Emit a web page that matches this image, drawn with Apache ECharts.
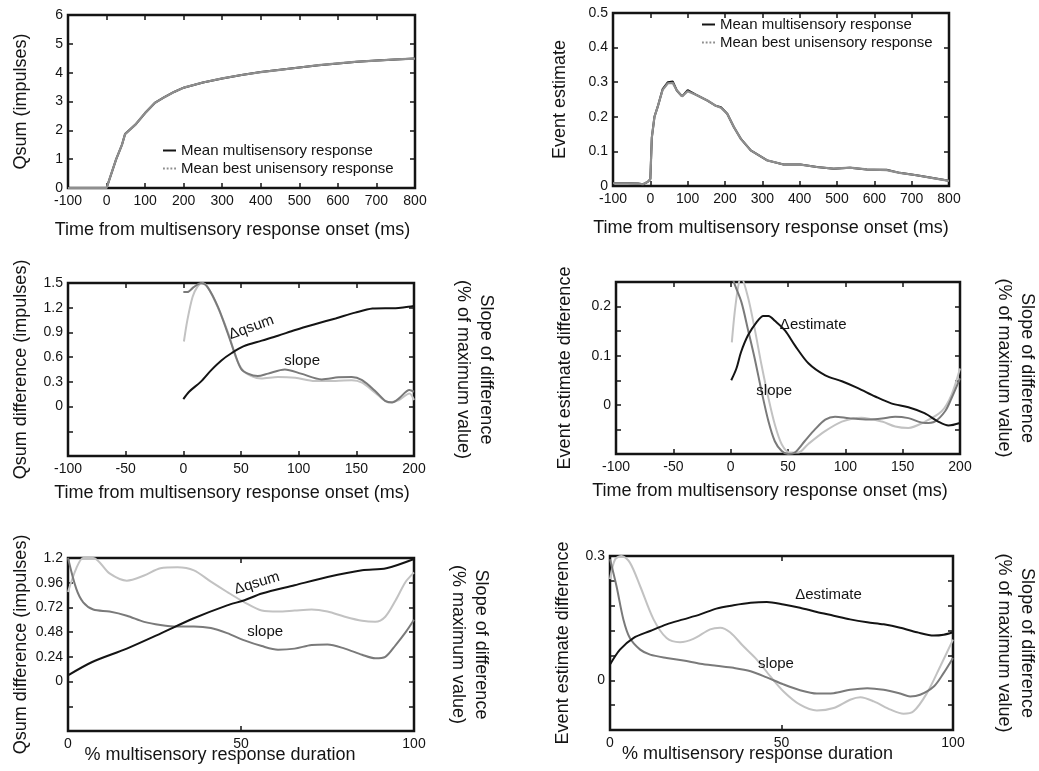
<!DOCTYPE html>
<html>
<head>
<meta charset="utf-8">
<title>Multisensory response panels</title>
<script src="https://cdn.jsdelivr.net/npm/echarts@6/dist/echarts.min.js"></script>
<style>
  html, body { margin: 0; padding: 0; background: #fff; }
  #chart { width: 1039px; height: 771px; }
</style>
</head>
<body>
<div id="chart"></div>
<script>
// ---- data ----
// panel A: Qsum over time
const qsumTime = [-100, -50, 0, 10, 25, 40, 48, 75, 100, 125, 150, 175, 200, 250, 300, 350, 400, 450, 500, 550, 600, 650, 700, 750, 800]
const qsumMulti = [0, 0, 0, 0.4, 1.0, 1.5, 1.87, 2.2, 2.6, 2.95, 3.15, 3.33, 3.48, 3.66, 3.8, 3.92, 4.02, 4.1, 4.18, 4.26, 4.32, 4.38, 4.42, 4.46, 4.49]
const qsumUni = [0, 0, 0, 0.4, 1.0, 1.5, 1.87, 2.2, 2.6, 2.95, 3.15, 3.33, 3.48, 3.66, 3.8, 3.92, 4.02, 4.1, 4.18, 4.26, 4.32, 4.38, 4.42, 4.46, 4.49]

// panel B: event estimate over time
const estTime = [-100, -60, -33, -20, -7, 0, 4, 11, 20, 33, 47, 60, 71, 85, 100, 122, 153, 175, 189, 206, 224, 242, 269, 313, 357, 402, 446, 491, 535, 580, 633, 668, 713, 757, 800]
const estMulti = [0.008, 0.008, 0.007, 0.005, 0.012, 0.02, 0.14, 0.2, 0.23, 0.28, 0.3, 0.302, 0.276, 0.259, 0.277, 0.264, 0.247, 0.232, 0.228, 0.209, 0.17, 0.137, 0.103, 0.074, 0.062, 0.062, 0.055, 0.05, 0.053, 0.048, 0.047, 0.038, 0.031, 0.023, 0.015]
const estUni = [0.008, 0.008, 0.007, 0.005, 0.012, 0.02, 0.14, 0.2, 0.23, 0.278, 0.297, 0.298, 0.276, 0.259, 0.274, 0.264, 0.247, 0.232, 0.226, 0.209, 0.17, 0.137, 0.103, 0.074, 0.062, 0.062, 0.055, 0.05, 0.053, 0.048, 0.046, 0.038, 0.031, 0.023, 0.015]

// panel C: qsum difference and slopes, first 200 ms
const dqTime = [0, 5, 15, 24, 33, 42, 52, 68, 82, 97, 114, 132, 149, 164, 175, 184, 192, 200]
const dqVal = [0.09, 0.18, 0.30, 0.44, 0.56, 0.65, 0.73, 0.80, 0.86, 0.93, 1.0, 1.07, 1.14, 1.19, 1.195, 1.195, 1.205, 1.22]
const dqSlopeDarkTime = [0, 3.5, 9, 15.5, 21, 30, 38.5, 44.5, 50, 56, 64.5, 73.5, 88, 102, 120, 134.5, 146, 155, 167, 175, 181, 187, 196, 200]
const dqSlopeDark = [1.39, 1.39, 1.45, 1.5, 1.45, 1.21, 0.89, 0.65, 0.46, 0.40, 0.37, 0.40, 0.45, 0.40, 0.33, 0.355, 0.36, 0.32, 0.18, 0.07, 0.05, 0.10, 0.2, 0.18]
const dqSlopeLightTime = [0.5, 3.5, 8, 12, 16.5, 22, 31, 40, 45.5, 51.5, 59, 67.5, 82, 97, 114, 132, 146, 155, 167, 178, 187, 196, 200]
const dqSlopeLight = [0.79, 1.05, 1.33, 1.45, 1.5, 1.43, 1.17, 0.85, 0.6, 0.44, 0.37, 0.34, 0.36, 0.35, 0.31, 0.31, 0.32, 0.29, 0.16, 0.05, 0.08, 0.16, 0.08]

// panel D: estimate difference and slopes, first 200 ms
const deTime = [0.5, 5, 9, 15, 22.5, 28.5, 33, 38.5, 47.5, 56, 68, 82.5, 97, 111, 126, 140, 155, 169, 181, 190, 200]
const deVal = [0.05, 0.074, 0.107, 0.141, 0.168, 0.181, 0.181, 0.171, 0.151, 0.121, 0.084, 0.06, 0.048, 0.034, 0.017, 0.003, -0.005, -0.017, -0.034, -0.042, -0.037]
const deSlopeDarkTime = [0, 3.5, 9.5, 15, 21, 27, 33, 38.5, 44.5, 50, 56, 64.5, 73.5, 82.5, 91, 103, 120, 132, 143.5, 155, 169.5, 178, 187, 192.5, 200]
const deSlopeDark = [0.27, 0.245, 0.208, 0.154, 0.094, 0.027, -0.034, -0.074, -0.094, -0.1, -0.097, -0.074, -0.05, -0.03, -0.024, -0.027, -0.03, -0.028, -0.024, -0.027, -0.037, -0.034, -0.013, 0.013, 0.054]
const deSlopeLightTime = [1, 3.5, 6.5, 9, 15, 21, 27, 33, 38.5, 44.5, 51.5, 59, 67.5, 82, 97, 114, 132, 143.5, 155, 169.5, 184, 192.5, 200]
const deSlopeLight = [0.127, 0.188, 0.24, 0.26, 0.22, 0.154, 0.08, 0.013, -0.04, -0.08, -0.097, -0.097, -0.08, -0.054, -0.034, -0.026, -0.034, -0.044, -0.047, -0.034, -0.013, 0.02, 0.074]

// panel E: qsum difference over normalised duration
const dqDurPct = [0, 7, 17, 27, 36, 46, 51, 56, 65.5, 75, 85, 92, 100]
const dqDurVal = [0.06, 0.19, 0.32, 0.47, 0.61, 0.74, 0.79, 0.855, 0.935, 1.015, 1.08, 1.1, 1.19]
const dqDurSlopePct = [0, 2.4, 4.4, 7.3, 12, 17, 22, 26.7, 31.6, 36.4, 41.3, 46, 51, 56, 60.7, 65.5, 70.4, 75, 80, 85, 88.8, 91.7, 94.7, 97.6, 100]
const dqDurSlopeDark = [1.2, 0.9, 0.77, 0.70, 0.68, 0.64, 0.58, 0.55, 0.535, 0.535, 0.52, 0.47, 0.40, 0.345, 0.31, 0.32, 0.355, 0.36, 0.32, 0.26, 0.226, 0.24, 0.355, 0.48, 0.60]
const dqDurSlopeLight = [0.87, 1.1, 1.2, 1.2, 1.05, 0.98, 1.03, 1.1, 1.11, 1.08, 0.97, 0.87, 0.77, 0.69, 0.68, 0.69, 0.70, 0.68, 0.63, 0.59, 0.58, 0.63, 0.79, 0.97, 1.06]

// panel F: estimate difference over normalised duration
const deDurPct = [0, 2.9, 6.8, 11.7, 16.5, 21.4, 26.3, 31, 36, 41, 45.7, 50.6, 55.4, 60.3, 65.2, 70, 75, 79.8, 84.6, 89.5, 94.4, 97.3, 100]
const deDurVal = [0.038, 0.074, 0.102, 0.119, 0.135, 0.147, 0.159, 0.173, 0.181, 0.187, 0.189, 0.183, 0.175, 0.165, 0.156, 0.147, 0.14, 0.135, 0.127, 0.116, 0.108, 0.11, 0.116]
const deDurSlopeDarkPct = [0, 1.9, 3.9, 5.8, 8.8, 11.7, 16.5, 21.4, 26.3, 31, 36, 41, 45.7, 50.6, 55.4, 60.3, 65.2, 70, 75, 79.8, 84.6, 87.5, 90.4, 94.4, 97.3, 100]
const deDurSlopeDark = [0.292, 0.227, 0.147, 0.102, 0.074, 0.062, 0.054, 0.048, 0.04, 0.035, 0.03, 0.022, 0.007, -0.01, -0.024, -0.032, -0.031, -0.023, -0.019, -0.023, -0.032, -0.039, -0.035, -0.015, 0.018, 0.054]
const deDurSlopeLightPct = [0, 1.5, 3.4, 5.8, 8.8, 12.7, 16.5, 20.4, 24.3, 29.2, 32.1, 35, 38.9, 42.8, 46.7, 50.6, 55.4, 60.3, 65.2, 70, 73, 76.9, 81.8, 85.6, 88.5, 92.4, 96.3, 100]
const deDurSlopeLight = [0.244, 0.292, 0.3, 0.284, 0.227, 0.147, 0.102, 0.092, 0.1, 0.123, 0.127, 0.116, 0.082, 0.05, 0.01, -0.027, -0.059, -0.073, -0.067, -0.047, -0.041, -0.051, -0.071, -0.081, -0.075, -0.031, 0.034, 0.098]

// ---- layout ----
const FONT = '"Liberation Sans", Arial, Helvetica, sans-serif'
const INK = '#141414'
const MID = '#8e8e8e'
const DARK = '#7a7a7a'
const LIGHT = '#c2c2c2'
const MULTI_NAME = 'Mean multisensory response'
const UNI_NAME = 'Mean best unisensory response'
const timeTitle = 'Time from multisensory response onset (ms)'
const durTitle = '% multisensory response duration'

const grids = [
  { left: 68, top: 15, width: 347, height: 173 },
  { left: 613, top: 13, width: 336, height: 173 },
  { left: 68, top: 283, width: 346, height: 173 },
  { left: 616, top: 282, width: 346, height: 172 },
  { left: 68, top: 558, width: 346, height: 173 },
  { left: 610, top: 556, width: 346, height: 174 }
]

const zip = (xs, ys) => xs.map((x, i) => [x, ys[i]])
const fmt = v => String(Math.round(v * 100) / 100)
const near = (a, b) => Math.abs(a - b) < 1e-6

const tickStyle = { inside: true, length: 5, lineStyle: { color: INK, width: 1.5 } }
const noLine = { show: false, onZero: false }

function xAxes (gi, min, max, interval, title, gap, padRight) {
  const base = {
    type: 'value', gridIndex: gi, min, max, interval,
    axisLine: noLine, axisTick: tickStyle, splitLine: { show: false }
  }
  return [
    Object.assign({}, base, {
      position: 'bottom',
      axisLabel: { color: INK, fontSize: 14, margin: 6, formatter: fmt },
      name: title, nameLocation: 'middle', nameGap: gap, nameMoveOverlap: false,
      nameTextStyle: { fontSize: 18, color: INK, padding: [0, padRight, 0, 0] }
    }),
    Object.assign({}, base, { position: 'top', axisLabel: { show: false } })
  ]
}

function yAxes (gi, min, max, interval, labelFn, title, gap, rightTitle, rightGap) {
  const base = {
    type: 'value', gridIndex: gi, min, max, interval,
    axisLine: noLine, axisTick: tickStyle, splitLine: { show: false }
  }
  const right = Object.assign({}, base, { position: 'right', axisLabel: { show: false } })
  if (rightTitle) {
    Object.assign(right, {
      name: rightTitle, nameLocation: 'middle', nameGap: rightGap, nameRotate: -90, nameMoveOverlap: false,
      nameTextStyle: { fontSize: 18, color: INK, lineHeight: 23 }
    })
  }
  return [
    Object.assign({}, base, {
      position: 'left',
      axisLabel: { color: INK, fontSize: 14, margin: 5, formatter: labelFn },
      name: title, nameLocation: 'middle', nameGap: gap, nameMoveOverlap: false,
      nameTextStyle: { fontSize: 18, color: INK }
    }),
    right
  ]
}

function line (gi, name, data, color, width, smooth, z) {
  return {
    type: 'line', name, data, xAxisIndex: gi * 2, yAxisIndex: gi * 2,
    showSymbol: false, symbol: 'none', smooth: smooth, clip: true, z: z || 2,
    lineStyle: { color, width }, itemStyle: { color }
  }
}

function note (text, coord, rotate) {
  return {
    coord,
    label: { show: true, position: 'inside', formatter: text, rotate: rotate || 0, fontSize: 15, color: INK, fontFamily: FONT }
  }
}

function withNotes (series, notes) {
  series.markPoint = {
    symbol: 'rect', symbolSize: 1, silent: true, animation: false,
    itemStyle: { color: 'rgba(0,0,0,0)' },
    data: notes
  }
  return series
}

const slopeTitle = 'Slope of difference\n(% of maximum value)'
const slopeTitleShort = 'Slope of difference\n(% maximum value)'

const xAxis = [].concat(
  xAxes(0, -100, 800, 100, timeTitle, 33, 18),
  xAxes(1, -100, 800, 100, timeTitle, 33, 20),
  xAxes(2, -100, 200, 50, timeTitle, 28, 18),
  xAxes(3, -100, 200, 50, timeTitle, 28, 36),
  xAxes(4, 0, 100, 50, durTitle, 15, 42),
  xAxes(5, 0, 100, 50, durTitle, 15, 48)
)

const yAxis = [].concat(
  yAxes(0, 0, 6, 1, fmt, 'Qsum (impulses)', 38),
  yAxes(1, 0, 0.5, 0.1, fmt, 'Event estimate', 44),
  yAxes(2, -0.6, 1.5, 0.3, v => (v < -1e-9 ? '' : fmt(v)), 'Qsum difference (impulses)', 38, slopeTitle, 37),
  yAxes(3, -0.1, 0.25, 0.05, v => ((v > -1e-9 && near(v * 10, Math.round(v * 10))) ? fmt(v) : ''), 'Event estimate difference', 42, slopeTitle, 32),
  yAxes(4, -0.48, 1.2, 0.24, v => (v < -1e-9 ? '' : fmt(v)), 'Qsum difference (impulses)', 38, slopeTitleShort, 32),
  yAxes(5, -0.12, 0.3, 0.06, v => ((near(v, 0) || near(v, 0.3)) ? fmt(v) : ''), 'Event estimate difference', 38, slopeTitle, 39)
)

const series = [
  line(0, MULTI_NAME, zip(qsumTime, qsumMulti), INK, 2, false, 2),
  line(0, UNI_NAME, zip(qsumTime, qsumUni), MID, 2.2, false, 3),
  line(1, MULTI_NAME, zip(estTime, estMulti), INK, 2, false, 2),
  line(1, UNI_NAME, zip(estTime, estUni), MID, 2.2, false, 3),

  line(2, 'slope (light)', zip(dqSlopeLightTime, dqSlopeLight), LIGHT, 2, 0.3, 2),
  line(2, 'slope (dark)', zip(dqSlopeDarkTime, dqSlopeDark), DARK, 2, 0.3, 3),
  withNotes(line(2, 'Δqsum', zip(dqTime, dqVal), INK, 2, 0.3, 4),
    [note('Δqsum', [59, 0.96], 20), note('slope', [103, 0.56])]),

  line(3, 'slope (light)', zip(deSlopeLightTime, deSlopeLight), LIGHT, 2, 0.3, 2),
  line(3, 'slope (dark)', zip(deSlopeDarkTime, deSlopeDark), DARK, 2, 0.3, 3),
  withNotes(line(3, 'Δestimate', zip(deTime, deVal), INK, 2, 0.3, 4),
    [note('Δestimate', [72, 0.162]), note('slope', [38, 0.028])]),

  line(4, 'slope (light)', zip(dqDurSlopePct, dqDurSlopeLight), LIGHT, 2, 0.3, 2),
  line(4, 'slope (dark)', zip(dqDurSlopePct, dqDurSlopeDark), DARK, 2, 0.3, 3),
  withNotes(line(4, 'Δqsum', zip(dqDurPct, dqDurVal), INK, 2, 0.3, 4),
    [note('Δqsum', [54.6, 0.956], 17), note('slope', [57, 0.478])]),

  line(5, 'slope (light)', zip(deDurSlopeLightPct, deDurSlopeLight), LIGHT, 2, 0.3, 2),
  line(5, 'slope (dark)', zip(deDurSlopeDarkPct, deDurSlopeDark), DARK, 2, 0.3, 3),
  withNotes(line(5, 'Δestimate', zip(deDurPct, deDurVal), INK, 2, 0.3, 4),
    [note('Δestimate', [63.7, 0.207]), note('slope', [48.4, 0.0386])])
]

// legend swatches: short solid bar and a row of dots
const solidIcon = 'path://M0,0H13V2H0Z'
const dottedIcon = 'path://M0,0H2V2H0Z M4,0H6V2H4Z M8,0H10V2H8Z M12,0H14V2H12Z'

const legendBase = {
  orient: 'vertical', padding: 0, itemWidth: 13, itemHeight: 14, itemGap: 3, selectedMode: false,
  symbolKeepAspect: true,
  textStyle: { fontSize: 15, color: INK, fontFamily: FONT },
  data: [
    { name: MULTI_NAME, icon: solidIcon, itemStyle: { color: INK } },
    { name: UNI_NAME, icon: dottedIcon, itemStyle: { color: MID } }
  ]
}

const chart = echarts.init(document.getElementById('chart'))
chart.setOption({
  animation: false,
  backgroundColor: '#fff',
  textStyle: { fontFamily: FONT },
  grid: grids.map(g => Object.assign({ show: true, borderColor: INK, borderWidth: 2.5, backgroundColor: 'transparent' }, g)),
  legend: [
    Object.assign({}, legendBase, { left: 163, top: 143 }),
    Object.assign({}, legendBase, { left: 702, top: 17 })
  ],
  xAxis,
  yAxis,
  series
})
</script>
</body>
</html>
